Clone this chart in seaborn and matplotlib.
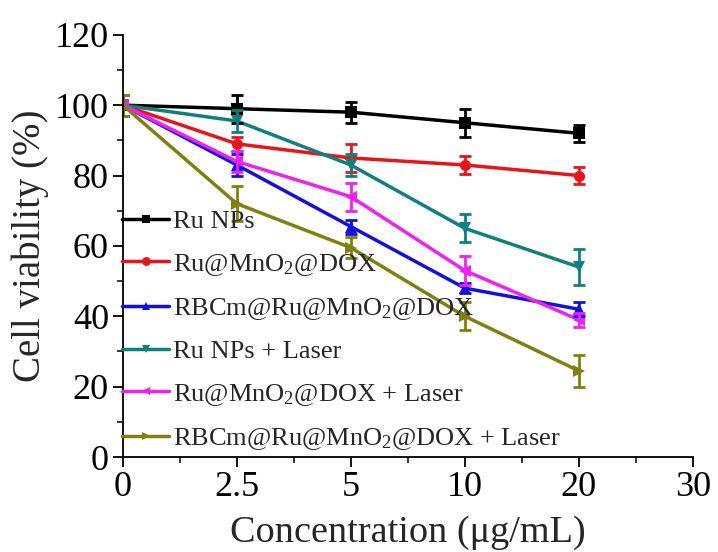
import numpy as np
import pandas as pd
import matplotlib
matplotlib.use("Agg")
import matplotlib.pyplot as plt
import seaborn as sns
from matplotlib.ticker import MultipleLocator, AutoMinorLocator

# concentrations (ug/mL), plotted at evenly spaced positions
conc_labels = ["0", "2.5", "5", "10", "20", "30"]
conc = ["0", "2.5", "5", "10", "20"]

groups = ["Ru NPs",
          "Ru@MnO$_2$@DOX",
          "RBCm@Ru@MnO$_2$@DOX",
          "Ru NPs + Laser",
          "Ru@MnO$_2$@DOX + Laser",
          "RBCm@Ru@MnO$_2$@DOX + Laser"]

ru_nps = [100, 99, 98, 95, 92]
ru_mno2_dox = [100, 89, 85, 83, 80]
rbcm_dox = [100, 83, 65.5, 48, 42]
ru_nps_laser = [100, 95.5, 83, 65, 54]
ru_mno2_dox_laser = [100, 84, 74, 53, 39]
rbcm_dox_laser = [100, 72, 59.5, 40, 24.5]

ru_nps_err = [3, 4, 3, 4, 2.5]
ru_mno2_dox_err = [3, 2, 4, 2.5, 2.5]
rbcm_dox_err = [3, 3, 2, 1.5, 2]
ru_nps_laser_err = [3, 3, 3, 4, 5]
ru_mno2_dox_laser_err = [3, 3, 4, 4, 2]
rbcm_dox_laser_err = [3, 5, 3, 4, 4.5]

values = [ru_nps, ru_mno2_dox, rbcm_dox, ru_nps_laser, ru_mno2_dox_laser, rbcm_dox_laser]
errors = [ru_nps_err, ru_mno2_dox_err, rbcm_dox_err, ru_nps_laser_err,
          ru_mno2_dox_laser_err, rbcm_dox_laser_err]

colors = ["#000000", "#e8141a", "#1010e0", "#107f7f", "#f020f0", "#808010"]
markers = ["s", "o", "^", "v", "<", ">"]

rows = []
for g, vals, errs in zip(groups, values, errors):
    for i, (v, e) in enumerate(zip(vals, errs)):
        rows.append({"group": g, "pos": i, "viability": v, "err": e})
df = pd.DataFrame(rows)

sns.set_style("ticks")
plt.rcParams['font.family'] = ['Liberation Serif', 'DejaVu Serif']
plt.rcParams['mathtext.fontset'] = 'custom'
plt.rcParams['mathtext.rm'] = 'Liberation Serif'
plt.rcParams['mathtext.it'] = 'Liberation Serif'

fig = plt.figure(figsize=(7.18, 5.52), dpi=100)
ax = fig.add_axes([0.171, 0.172, 0.794, 0.765])

palette = dict(zip(groups, colors))
mk = dict(zip(groups, markers))

sns.lineplot(data=df, x="pos", y="viability", hue="group", style="group",
             hue_order=groups, style_order=groups, palette=palette,
             markers=mk, dashes=False, linewidth=2.5, markersize=8,
             markeredgewidth=0, ax=ax)

for g, c in zip(groups, colors):
    sub = df[df["group"] == g]
    ax.errorbar(sub["pos"], sub["viability"], yerr=sub["err"], fmt="none",
                ecolor=c, elinewidth=2, capsize=4, capthick=2)

ax.set_xlim(0, 5)
ax.set_ylim(0, 120)
ax.set_xticks(range(len(conc_labels)))
ax.set_xticklabels(conc_labels)
ax.xaxis.set_minor_locator(AutoMinorLocator(2))
ax.yaxis.set_major_locator(MultipleLocator(20))
ax.yaxis.set_minor_locator(MultipleLocator(10))
ax.tick_params(axis="both", which="major", length=7, width=1.3, labelsize=26,
               direction="out", colors="black", pad=3)
ax.tick_params(axis="both", which="minor", length=4, width=1.3, direction="out")
for s in ["left", "bottom"]:
    ax.spines[s].set_linewidth(1.3)
    ax.spines[s].set_color("black")
sns.despine(ax=ax)

ax.set_xlabel("Concentration (μg/mL)", fontsize=27.5, labelpad=8)
ax.set_ylabel("Cell viability (%)", fontsize=28, labelpad=4)

leg = ax.legend(loc="lower left", bbox_to_anchor=(-0.01, 0.0), frameon=False,
                fontsize=19, handlelength=1.78, handletextpad=0.15,
                labelspacing=0.69, borderaxespad=0.2, borderpad=0.0,
                markerscale=0.8)

fig.savefig("out.png", dpi=100)
